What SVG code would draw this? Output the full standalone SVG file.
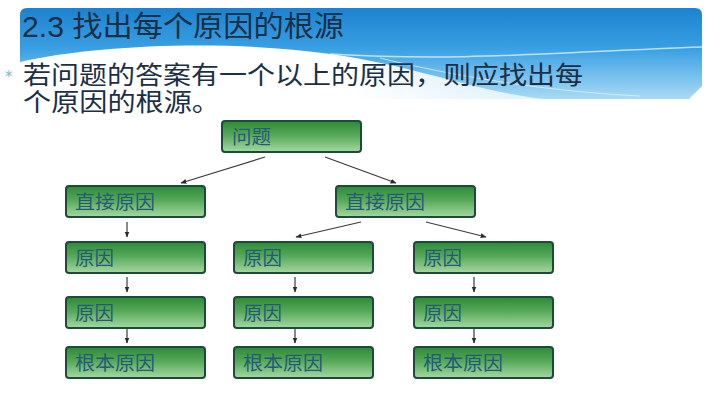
<svg xmlns="http://www.w3.org/2000/svg" width="720" height="403" viewBox="0 0 720 403">
<defs>
<linearGradient id="ban" x1="0" y1="0" x2="0" y2="1">
<stop offset="0" stop-color="#1c82cf"/>
<stop offset="0.45" stop-color="#3aa0e3"/>
<stop offset="1" stop-color="#a9dbf5"/>
</linearGradient>
<linearGradient id="wave" x1="0" y1="0" x2="1" y2="0">
<stop offset="0" stop-color="#ffffff"/>
<stop offset="0.6" stop-color="#ffffff"/>
<stop offset="1" stop-color="#ffffff" stop-opacity="0.6"/>
</linearGradient>
<linearGradient id="box" x1="0" y1="0" x2="0" y2="1">
<stop offset="0" stop-color="#2c8a37"/>
<stop offset="0.45" stop-color="#55a858"/>
<stop offset="1" stop-color="#a6d8a1"/>
</linearGradient>
<marker id="ah" viewBox="0 0 10 10" refX="9" refY="5" markerWidth="5" markerHeight="5" orient="auto">
<path d="M0,1 L10,5 L0,9 Z" fill="#2b2b2b"/>
</marker>
<style>
.node rect{fill:url(#box);stroke:#1d4a3c;stroke-width:2}
.node text{font-family:"Liberation Sans","Noto Sans CJK SC",sans-serif;font-size:19px;fill:#245a78}
.conn line{stroke:#3a3a3a;stroke-width:1.2;marker-end:url(#ah)}
.t{font-family:"Liberation Sans","Noto Sans CJK SC",sans-serif;fill:#1b2f45}
</style>
</defs>
<rect width="720" height="403" fill="#ffffff"/>
<g id="header">
<path d="M27,8 H695 Q702,8 702,15 V86 L689,99 H20 V15 Q20,8 27,8 Z" fill="url(#ban)"/>
<path d="M20,62 C 100,44 230,40 330,54 C 430,68 480,96 570,101 L 20,101 Z" fill="url(#wave)"/>
<path d="M330,54 C 460,62 560,52 702,47" fill="none" stroke="#d9f0fb" stroke-width="1.5" opacity="0.8"/>
<path d="M380,58 C 470,80 560,92 640,96" fill="none" stroke="#e6f5fc" stroke-width="1" opacity="0.7"/>
<text class="t" x="22" y="37" font-size="29" textLength="322" lengthAdjust="spacingAndGlyphs">2.3 找出每个原因的根源</text>
</g>
<g id="bullet">
<text x="5" y="82" font-family="DejaVu Sans,sans-serif" font-size="15" fill="#7ab8d8">*</text>
<text class="t" x="23" y="84" font-size="25" fill="#141414" textLength="560" lengthAdjust="spacingAndGlyphs">若问题的答案有一个以上的原因，则应找出每</text>
<text class="t" x="23" y="111" font-size="25" fill="#141414" textLength="197" lengthAdjust="spacingAndGlyphs">个原因的根源。</text>
</g>
<g class="conn" id="connectors">
<line x1="265" y1="157" x2="181" y2="183"/>
<line x1="325" y1="157" x2="396" y2="183"/>
<line x1="361" y1="222" x2="296" y2="237"/>
<line x1="426" y1="222" x2="486" y2="237"/>
<line x1="127" y1="222" x2="127" y2="237"/>
<line x1="127" y1="277" x2="127" y2="292"/>
<line x1="127" y1="328" x2="127" y2="343"/>
<line x1="295" y1="277" x2="295" y2="292"/>
<line x1="295" y1="328" x2="295" y2="343"/>
<line x1="474" y1="277" x2="474" y2="292"/>
<line x1="474" y1="328" x2="474" y2="343"/>
</g>
<g class="node" id="n_wenti"><rect x="222" y="121" width="139" height="31" rx="3"/><text x="232" y="144" textLength="39" lengthAdjust="spacingAndGlyphs">问题</text></g>
<g class="node" id="n_zj1"><rect x="66" y="186" width="139" height="31" rx="3"/><text x="75" y="209" textLength="80" lengthAdjust="spacingAndGlyphs">直接原因</text></g>
<g class="node" id="n_zj2"><rect x="336" y="186" width="139" height="31" rx="3"/><text x="345" y="209" textLength="80" lengthAdjust="spacingAndGlyphs">直接原因</text></g>
<g class="node" id="n_c1a"><rect x="66" y="242" width="139" height="31" rx="3"/><text x="75" y="265" textLength="39" lengthAdjust="spacingAndGlyphs">原因</text></g>
<g class="node" id="n_c1b"><rect x="66" y="297" width="139" height="31" rx="3"/><text x="75" y="320" textLength="39" lengthAdjust="spacingAndGlyphs">原因</text></g>
<g class="node" id="n_c1r"><rect x="66" y="347" width="139" height="31" rx="3"/><text x="75" y="370" textLength="80" lengthAdjust="spacingAndGlyphs">根本原因</text></g>
<g class="node" id="n_c2a"><rect x="234" y="242" width="139" height="31" rx="3"/><text x="243" y="265" textLength="39" lengthAdjust="spacingAndGlyphs">原因</text></g>
<g class="node" id="n_c2b"><rect x="234" y="297" width="139" height="31" rx="3"/><text x="243" y="320" textLength="39" lengthAdjust="spacingAndGlyphs">原因</text></g>
<g class="node" id="n_c2r"><rect x="234" y="347" width="139" height="31" rx="3"/><text x="243" y="370" textLength="80" lengthAdjust="spacingAndGlyphs">根本原因</text></g>
<g class="node" id="n_c3a"><rect x="414" y="242" width="139" height="31" rx="3"/><text x="423" y="265" textLength="39" lengthAdjust="spacingAndGlyphs">原因</text></g>
<g class="node" id="n_c3b"><rect x="414" y="297" width="139" height="31" rx="3"/><text x="423" y="320" textLength="39" lengthAdjust="spacingAndGlyphs">原因</text></g>
<g class="node" id="n_c3r"><rect x="414" y="347" width="139" height="31" rx="3"/><text x="423" y="370" textLength="80" lengthAdjust="spacingAndGlyphs">根本原因</text></g>
</svg>
